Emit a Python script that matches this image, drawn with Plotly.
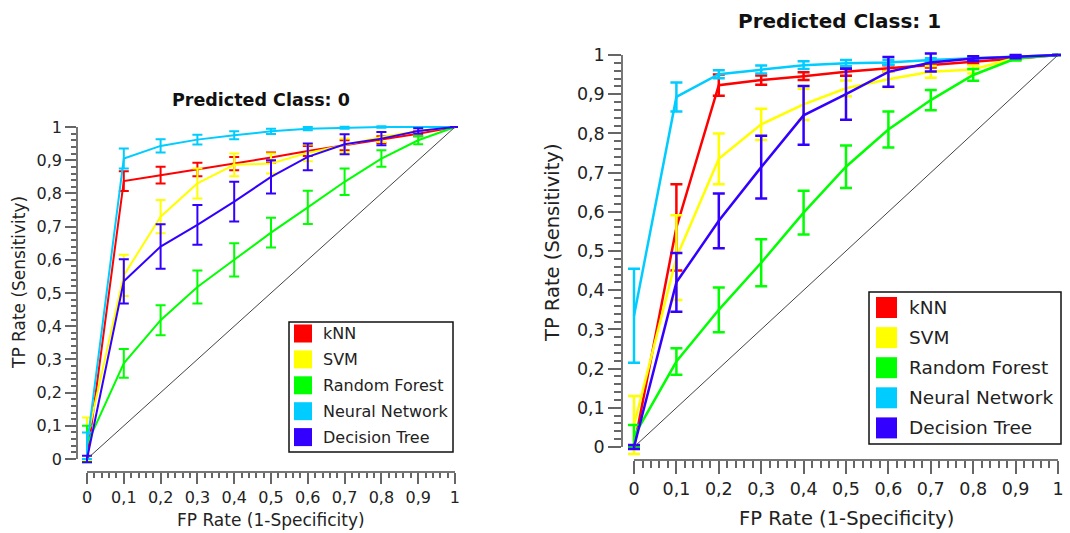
import plotly.graph_objects as go

W, H = 1070, 533

# ---------------- data ----------------
fpr = [0, 0.1, 0.2, 0.3, 0.4, 0.5, 0.6, 0.7, 0.8, 0.9, 1.0]
models = ["kNN", "SVM", "Random Forest", "Neural Network", "Decision Tree"]
colors = ["#FF0000", "#FFFF00", "#00FF00", "#00CCFF", "#3300FF"]

# Predicted Class: 0  (mean TP rate and error half-width)
c0_knn = [0, 0.837, 0.855, 0.872, 0.890, 0.908, 0.928, 0.945, 0.962, 0.980, 1.0]
c0_knn_err = [0, 0.030, 0.025, 0.020, 0.020, 0.015, 0.015, 0.015, 0.010, 0.008, 0]
c0_svm = [0.06, 0.553, 0.730, 0.830, 0.886, 0.890, 0.922, 0.945, 0.970, 0.988, 1.0]
c0_svm_err = [0.065, 0.062, 0.050, 0.045, 0.034, 0.030, 0.025, 0.020, 0.015, 0.010, 0]
c0_rf = [0.045, 0.288, 0.418, 0.518, 0.600, 0.682, 0.758, 0.835, 0.905, 0.960, 1.0]
c0_rf_err = [0.055, 0.043, 0.045, 0.050, 0.050, 0.045, 0.050, 0.040, 0.025, 0.012, 0]
c0_nn = [0.04, 0.905, 0.943, 0.962, 0.975, 0.987, 0.995, 0.998, 1.0, 1.0, 1.0]
c0_nn_err = [0.04, 0.030, 0.020, 0.015, 0.012, 0.008, 0.005, 0.003, 0.002, 0, 0]
c0_dt = [0, 0.535, 0.640, 0.705, 0.775, 0.850, 0.910, 0.948, 0.965, 0.988, 1.0]
c0_dt_err = [0.01, 0.067, 0.067, 0.060, 0.060, 0.050, 0.040, 0.030, 0.020, 0.008, 0]

# Predicted Class: 1
c1_knn = [0, 0.560, 0.923, 0.936, 0.946, 0.957, 0.966, 0.974, 0.983, 0.991, 1.0]
c1_knn_err = [0, 0.110, 0.027, 0.012, 0.010, 0.010, 0.008, 0.006, 0.005, 0.003, 0]
c1_svm = [0.056, 0.483, 0.735, 0.823, 0.874, 0.915, 0.938, 0.957, 0.963, 0.993, 1.0]
c1_svm_err = [0.074, 0.108, 0.065, 0.040, 0.040, 0.020, 0.020, 0.015, 0.010, 0.005, 0]
c1_rf = [0.028, 0.218, 0.350, 0.470, 0.598, 0.715, 0.810, 0.885, 0.949, 0.991, 1.0]
c1_rf_err = [0.028, 0.034, 0.057, 0.060, 0.056, 0.054, 0.046, 0.026, 0.015, 0.005, 0]
c1_nn = [0.335, 0.893, 0.951, 0.963, 0.974, 0.979, 0.981, 0.987, 0.991, 0.996, 1.0]
c1_nn_err = [0.120, 0.037, 0.010, 0.010, 0.010, 0.008, 0.006, 0.005, 0.004, 0.003, 0]
c1_dt = [0, 0.420, 0.577, 0.714, 0.846, 0.900, 0.957, 0.981, 0.991, 0.996, 1.0]
c1_dt_err = [0.005, 0.075, 0.070, 0.080, 0.075, 0.065, 0.038, 0.023, 0.006, 0.004, 0]

diag = [0, 1]

titles = ["Predicted Class: 0", "Predicted Class: 1"]
x_title = "FP Rate (1-Specificity)"
y_title = "TP Rate (Sensitivity)"

class0 = [(c0_knn, c0_knn_err), (c0_svm, c0_svm_err), (c0_rf, c0_rf_err),
          (c0_nn, c0_nn_err), (c0_dt, c0_dt_err)]
class1 = [(c1_knn, c1_knn_err), (c1_svm, c1_svm_err), (c1_rf, c1_rf_err),
          (c1_nn, c1_nn_err), (c1_dt, c1_dt_err)]

# ---------------- layout geometry (pixels) ----------------
panels = [
    dict(px0=87, px1=455, py0=459, py1=127, yline=77, xline=472,
         lw=2.0, cap=5, tickfont=16, ticklen=11, mlen=5,
         title_xy=(261, 100), title_size=17.5,
         xt_xy=(271, 520), yt_xy=(19, 283), axt_size=17,
         leg=dict(x0=289, y0=322, x1=453, y1=452, sq=18, sqx=294, tx=321,
                  row0=333.5, step=25.9, fs=16)),
    dict(px0=634, px1=1058, py0=447, py1=55, yline=622, xline=460,
         lw=2.5, cap=6, tickfont=17.5, ticklen=13, mlen=7,
         title_xy=(839, 21), title_size=20,
         xt_xy=(846, 518), yt_xy=(552, 243), axt_size=19.5,
         leg=dict(x0=869, y0=292, x1=1061, y1=444, sq=21, sqx=876, tx=907,
                  row0=307.5, step=30.1, fs=18.5)),
]

FONT = "DejaVu Sans"
fig = go.Figure()
layout = dict(width=W, height=H, autosize=False,
              margin=dict(l=0, r=0, t=0, b=0, pad=0, autoexpand=False),
              paper_bgcolor="white", plot_bgcolor="rgba(0,0,0,0)",
              separators=",.", showlegend=False,
              font=dict(family=FONT, color="#222"))
annotations = []
shapes = []

for i, (p, series) in enumerate(zip(panels, [class0, class1])):
    dx = f"x{2*i+1}" if i else "x"
    dy = f"y{2*i+1}" if i else "y"
    vx = f"x{2*i+2}"
    vy = f"y{2*i+2}"
    sx = p["px1"] - p["px0"]
    sy = p["py0"] - p["py1"]
    pad = 3
    # hidden data axes (slightly larger so marks at the edge are not clipped)
    layout["xaxis" + dx[1:]] = dict(
        domain=[p["yline"] / W, (p["px1"] + pad) / W],
        range=[(p["yline"] - p["px0"]) / sx, 1 + pad / sx],
        visible=False, anchor=dy, automargin=False)
    layout["yaxis" + dy[1:]] = dict(
        domain=[1 - p["xline"] / H, 1 - (p["py1"] - pad) / H],
        range=[-(p["xline"] - p["py0"]) / sy, 1 + pad / sy],
        visible=False, anchor=dx, automargin=False)
    axcommon = dict(range=[-1e-4, 1 + 1e-4], tickmode="linear", tick0=0, dtick=0.1,
                    ticks="outside", ticklen=p["ticklen"], tickwidth=1.5,
                    tickcolor="#666", showline=True, linecolor="#777", linewidth=1.5,
                    showgrid=False, zeroline=False, anchor="free", automargin=False,
                    tickfont=dict(family=FONT, size=p["tickfont"], color="#222"),
                    minor=dict(dtick=0.02, tick0=0, ticks="outside", ticklen=p["mlen"],
                               tickwidth=1.5, tickcolor="#666", showgrid=False))
    layout["xaxis" + vx[1:]] = dict(axcommon, domain=[p["px0"] / W, p["px1"] / W],
                                    position=1 - p["xline"] / H)
    layout["yaxis" + vy[1:]] = dict(axcommon, domain=[1 - p["py0"] / H, 1 - p["py1"] / H],
                                    position=p["yline"] / W)
    # diagonal reference line
    fig.add_trace(go.Scatter(x=diag, y=diag, mode="lines", xaxis=vx, yaxis=vy,
                             line=dict(color="#444", width=1), hoverinfo="skip"))
    for name, color, (vals, err) in zip(models, colors, series):
        fig.add_trace(go.Scatter(
            x=fpr, y=vals, mode="lines", name=name, xaxis=dx, yaxis=dy,
            line=dict(color=color, width=p["lw"]),
            error_y=dict(type="data", array=err, visible=True, color=color,
                         thickness=p["lw"], width=p["cap"])))
    # titles
    tx, ty = p["title_xy"]
    annotations.append(dict(text=f"<b>{titles[i]}</b>", x=tx / W, y=1 - ty / H,
                            xref="paper", yref="paper", showarrow=False,
                            xanchor="center", yanchor="middle",
                            font=dict(family=FONT, size=p["title_size"], color="#111")))
    ax_, ay_ = p["xt_xy"]
    annotations.append(dict(text=x_title, x=ax_ / W, y=1 - ay_ / H, xref="paper",
                            yref="paper", showarrow=False, xanchor="center",
                            yanchor="middle",
                            font=dict(family=FONT, size=p["axt_size"], color="#222")))
    bx, by = p["yt_xy"]
    annotations.append(dict(text=y_title, x=bx / W, y=1 - by / H, xref="paper",
                            yref="paper", showarrow=False, xanchor="center",
                            yanchor="middle", textangle=-90,
                            font=dict(family=FONT, size=p["axt_size"], color="#222")))
    # legend box
    lg = p["leg"]
    shapes.append(dict(type="rect", xref="paper", yref="paper",
                       x0=lg["x0"] / W, x1=lg["x1"] / W,
                       y0=1 - lg["y1"] / H, y1=1 - lg["y0"] / H,
                       line=dict(color="#111", width=1.5), fillcolor="white"))
    for k, (name, color) in enumerate(zip(models, colors)):
        cy = lg["row0"] + k * lg["step"]
        shapes.append(dict(type="rect", xref="paper", yref="paper",
                           x0=lg["sqx"] / W, x1=(lg["sqx"] + lg["sq"]) / W,
                           y0=1 - (cy + lg["sq"] / 2) / H, y1=1 - (cy - lg["sq"] / 2) / H,
                           line=dict(width=0), fillcolor=color))
        annotations.append(dict(text=name, x=lg["tx"] / W, y=1 - cy / H, xref="paper",
                                yref="paper", showarrow=False, xanchor="left",
                                yanchor="middle",
                                font=dict(family=FONT, size=lg["fs"], color="#222")))

layout["annotations"] = annotations
layout["shapes"] = shapes
fig.update_layout(**layout)
fig.write_html("out.html", config={"displayModeBar": False},
               post_script="document.body.style.margin='0';"
                           "document.body.style.overflow='hidden';")
